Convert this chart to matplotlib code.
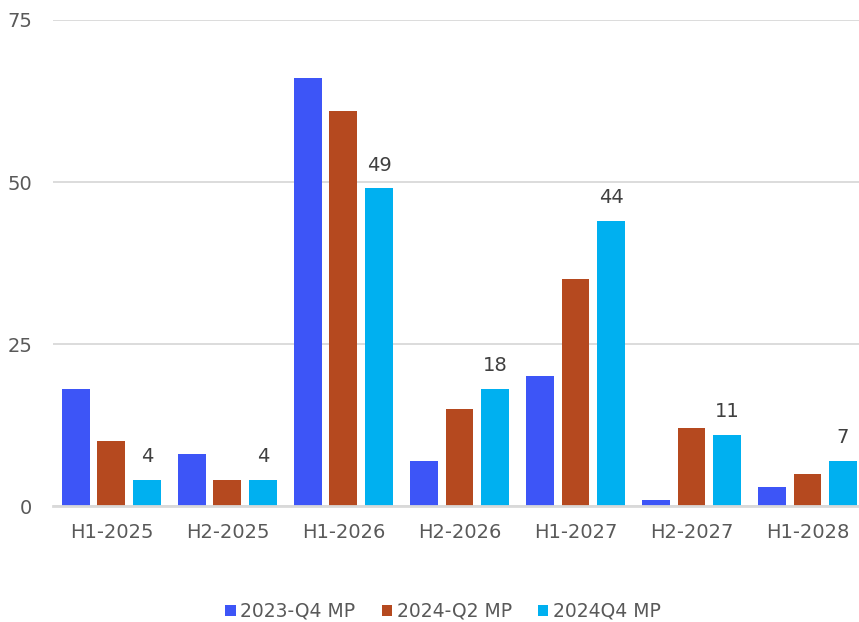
import numpy as np
import matplotlib.pyplot as plt
from matplotlib.patches import Patch

# half-year buckets and the three plan vintages
periods = ["H1-2025", "H2-2025", "H1-2026", "H2-2026", "H1-2027", "H2-2027", "H1-2028"]
mp_2023q4 = [18, 8, 66, 7, 20, 1, 3]
mp_2024q2 = [10, 4, 61, 15, 35, 12, 5]
mp_2024q4 = [4, 4, 49, 18, 44, 11, 7]

series_names = ["2023-Q4 MP", "2024-Q2 MP", "2024Q4 MP"]
colors = ["#3D55F7", "#B5491F", "#00B0F0"]
yticks = [0, 25, 50, 75]

plt.rcParams['font.family'] = ['DejaVu Sans']
text_gray = "#595959"

fig = plt.figure(figsize=(8.59, 6.22), dpi=100)
ax = fig.add_axes([53 / 859, 1 - 506 / 622, 806 / 859, 486 / 622])

x = np.arange(len(periods))
width = 0.241
step = 0.306
all_series = [mp_2023q4, mp_2024q2, mp_2024q4]
for i, (vals, col) in enumerate(zip(all_series, colors)):
    bars = ax.bar(x + (i - 1) * step, vals, width=width, color=col, zorder=3)
    if i == 2:
        ax.bar_label(bars, labels=[str(v) for v in vals], padding=10,
                     fontsize=14, color="#404040")

ax.set_xlim(-0.504, 6.444)
ax.set_ylim(0, 75)
ax.set_yticks(yticks)
ax.set_xticks(x)
ax.set_xticklabels(periods)
ax.tick_params(axis='both', length=0, labelsize=14, colors=text_gray)
ax.tick_params(axis='y', pad=15)
ax.tick_params(axis='x', pad=12)

ax.grid(axis='y', color="#D9D9D9", linewidth=1.3, zorder=0)
for side in ["top", "right", "left"]:
    ax.spines[side].set_visible(False)
ax.spines["bottom"].set_color("#D9D9D9")
ax.spines["bottom"].set_linewidth(2)
ax.spines["bottom"].set_zorder(4)

handles = [Patch(facecolor=c, label=n) for c, n in zip(colors, series_names)]
fig.legend(handles=handles, loc="center", bbox_to_anchor=(0.516, 0.017),
           ncol=3, frameon=False, fontsize=13.5, labelcolor=text_gray,
           handlelength=0.55, handleheight=0.55, handletextpad=0.25,
           columnspacing=1.4)

fig.savefig("out.png", dpi=100)
